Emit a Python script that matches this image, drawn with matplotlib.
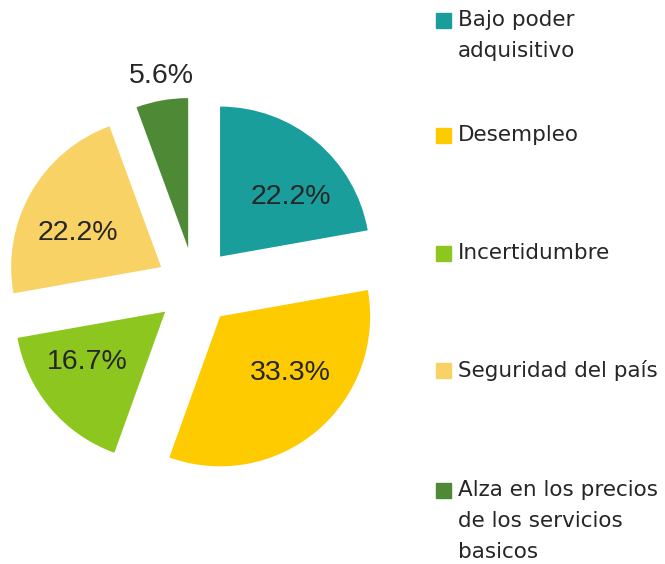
import numpy as np
import matplotlib.pyplot as plt
from matplotlib.patches import Rectangle

# datos del grafico
categorias = ['Bajo poder\nadquisitivo', 'Desempleo', 'Incertidumbre',
              'Seguridad del país', 'Alza en los precios\nde los servicios\nbasicos']
valores = [22.2, 33.3, 16.7, 22.2, 5.6]
colores = ['#1a9e9c', '#fecb00', '#8cc61f', '#f8d264', '#4e8a35']

# ubicacion de las etiquetas (angulo desde arriba, distancia desde el vertice)
etiqueta_ang = [50, 129, 237, 292, 351]
etiqueta_dist = [0.62, 0.60, 0.62, 0.60, 1.16]
# posicion vertical de cada entrada de la leyenda (px desde arriba)
leyenda_y = [20, 135, 253, 370, 490]

W, H = 665, 564
fig = plt.figure(figsize=(W / 100, H / 100), dpi=100)

# eje del pastel: radio 150 px, centro en (195, 286)
r_px = 150
lim = 1.6
cx, cy = 195, 286.5
size = 2 * lim * r_px
ax = fig.add_axes([(cx - size / 2) / W, (H - cy - size / 2) / H, size / W, size / H])

wedges, _ = ax.pie(valores, colors=colores, startangle=90, counterclock=False,
                   explode=[0.26] * len(valores), radius=1,
                   wedgeprops=dict(linewidth=0))
ax.set_xlim(-lim, lim)
ax.set_ylim(-lim, lim)
ax.set_aspect('equal')
ax.axis('off')

for w, v, a, d in zip(wedges, valores, etiqueta_ang, etiqueta_dist):
    x0, y0 = w.center
    t = np.deg2rad(a)
    ax.text(x0 + d * np.sin(t), y0 + d * np.cos(t), f'{v:.1f}%',
            ha='center', va='center', fontsize=20.5, color='#262626',
            family='Liberation Sans')

# leyenda dibujada a mano
for lab, col, y in zip(categorias, colores, leyenda_y):
    fig.patches.append(Rectangle((436 / W, 1 - (y + 8) / H), 15 / W, 15 / H,
                                 transform=fig.transFigure, color=col))
    fig.text(458 / W, 1 - (y - 10) / H, lab, ha='left', va='top',
             fontsize=15.5, color='#262626', family='DejaVu Sans', linespacing=1.68)

fig.savefig('out.png', dpi=100)
